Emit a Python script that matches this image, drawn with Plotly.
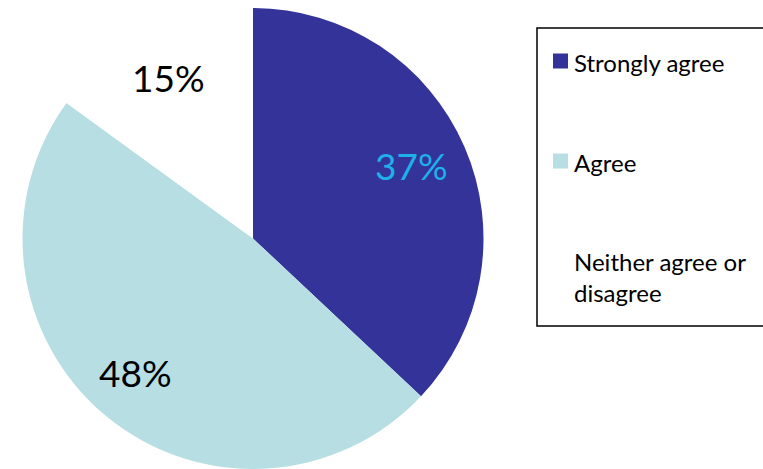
import math
import plotly.graph_objects as go

categories = ["Strongly agree", "Agree", "Neither agree or disagree"]
values = [37, 48, 15]
pct_labels = ["37%", "48%", "15%"]
colors = ["#333399", "#B7DEE3", "#FFFFFF"]
text_colors = ["#1FB0EA", "#000000", "#000000"]
legend_labels = ["Strongly agree", "Agree", "Neither agree or<br>disagree"]

W, H = 763, 469
MT = 8                      # top margin
PH = H - MT                 # plot-area height in px
FONT = "Lato, 'Open Sans', sans-serif"

dom_x = [22 / W, 484 / W]
dom_y = [0, 1]

fig = go.Figure()
fig.add_trace(go.Pie(
    labels=categories,
    values=values,
    textinfo="none",
    marker=dict(colors=colors, line=dict(width=0)),
    sort=False,
    direction="clockwise",
    rotation=0,
    domain=dict(x=dom_x, y=dom_y),
    showlegend=False,
    hoverinfo="label+percent",
))


def px_to_paper(x, y):
    return x / W, 1 - (y - MT) / PH


# percentage labels placed along each slice's mid angle
cx = (dom_x[0] + dom_x[1]) / 2 * W
cy = MT + (1 - (dom_y[0] + dom_y[1]) / 2) * PH
R = min((dom_x[1] - dom_x[0]) * W, (dom_y[1] - dom_y[0]) * PH) / 2
total = sum(values)
annotations = []
cum = 0
for v, lab, tc in zip(values, pct_labels, text_colors):
    mid = (cum + v / 2) / total * 2 * math.pi
    cum += v
    r = 0.77 * R
    x, y = px_to_paper(cx + r * math.sin(mid) - 4, cy - r * math.cos(mid) - 3)
    annotations.append(dict(xref="paper", yref="paper", x=x, y=y,
                            xanchor="center", yanchor="middle", text=lab,
                            showarrow=False,
                            font=dict(size=37, color=tc, family=FONT)))

# Custom legend box
bx0, by0 = px_to_paper(537, 326)
bx1, by1 = px_to_paper(800, 28)
shapes = [dict(type="rect", xref="paper", yref="paper",
               x0=bx0, x1=bx1, y0=by0, y1=by1,
               line=dict(color="black", width=1.5), fillcolor="rgba(0,0,0,0)")]
rows_y = [61, 161, 261]
for i, lab in enumerate(legend_labels):
    yc = rows_y[i]
    if colors[i].upper() != "#FFFFFF":
        sx0, sy0 = px_to_paper(553, yc + 7.5)
        sx1, sy1 = px_to_paper(568, yc - 7.5)
        shapes.append(dict(type="rect", xref="paper", yref="paper",
                           x0=sx0, x1=sx1, y0=sy0, y1=sy1,
                           line=dict(width=0), fillcolor=colors[i]))
    if i < 2:
        ax, ay = px_to_paper(572, yc + 1)
        yanchor = "middle"
    else:
        ax, ay = px_to_paper(572, yc - 16)
        yanchor = "top"
    annotations.append(dict(xref="paper", yref="paper", x=ax, y=ay,
                            xanchor="left", yanchor=yanchor,
                            text=lab, showarrow=False, align="left",
                            font=dict(size=24, color="black", family=FONT)))

fig.update_layout(
    width=W, height=H,
    margin=dict(l=0, r=0, t=MT, b=0),
    paper_bgcolor="white", plot_bgcolor="white",
    shapes=shapes, annotations=annotations,
    font=dict(family=FONT),
)
fig.write_html("out.html",
               config={"displayModeBar": False},
               post_script="document.body.style.margin='0';document.body.style.overflow='hidden';")
